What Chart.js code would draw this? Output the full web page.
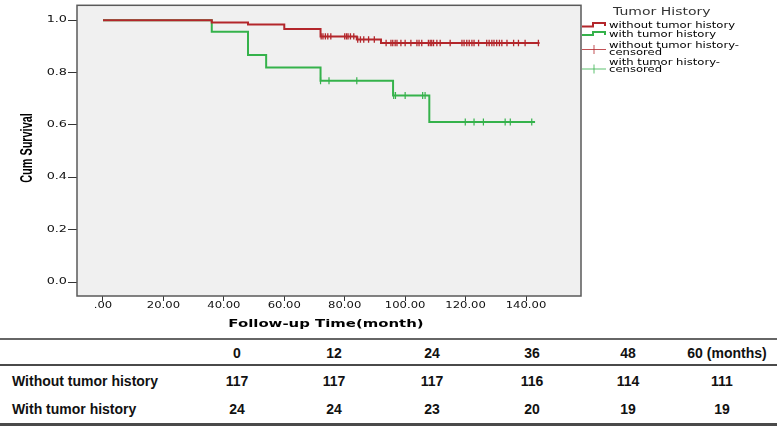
<!DOCTYPE html>
<html>
<head>
<meta charset="utf-8">
<script src="https://cdn.jsdelivr.net/npm/chart.js@4.4.0/dist/chart.umd.min.js"></script>
<style>
  html, body { margin: 0; padding: 0; background: #fff; }
  #wrap { position: relative; width: 777px; height: 426px; overflow: hidden; }
  #chart { position: absolute; left: 0; top: 0; }
  .rule { position: absolute; left: 0; width: 777px; background: #4a4a4a; }
  .cell { position: absolute; font: bold 14px "Liberation Sans", Arial, sans-serif; color: #111; white-space: nowrap; line-height: 16px; }
</style>
</head>
<body>
<div id="wrap">
  <canvas id="chart" width="777" height="336"></canvas>
  <div class="rule" style="top:338px;height:2px;background:#666"></div>
  <div class="rule" style="top:364px;height:2px"></div>
  <div class="rule" style="top:423px;height:3px"></div>
</div>
<script>
// axis ticks
const xTicks = [0, 20, 40, 60, 80, 100, 120, 140];
const xTickLabels = ['.00', '20.00', '40.00', '60.00', '80.00', '100.00', '120.00', '140.00'];
const yTicks = [0, 0.2, 0.4, 0.6, 0.8, 1.0];
const yTickLabels = ['0.0', '0.2', '0.4', '0.6', '0.8', '1.0'];

// KM step points (time in months, cumulative survival)
const redTimes = [0, 36, 48, 60, 72, 84, 92, 144.5];
const redSurv = [1, 0.991, 0.983, 0.966, 0.938, 0.926, 0.913, 0.913];
const greenTimes = [0, 36, 48, 54, 72, 96, 108, 143];
const greenSurv = [1, 0.956, 0.867, 0.819, 0.769, 0.712, 0.611, 0.611];

// censored times
const redCensored = [72.2, 72.8, 73.6, 74.4, 75.4, 80.0, 80.6, 81.1, 81.9, 83.0,
  84.3, 85.2, 86.3, 87.9, 89.8,
  93.7, 95.3, 95.9, 96.7, 97.3, 98.6, 100, 101.9, 103.9, 104.6, 105.5, 107.7, 108.3, 108.8, 109.4,
  110.5, 111.6, 114.9, 118.8, 119.5, 120.4, 121.2, 122.1, 122.8, 124.3, 127, 127.8, 128.7, 129.4,
  130.3, 131.2, 132, 133.7, 135.9, 137.5, 139.7, 144.1];
const greenCensored = [72, 74.8, 84, 96.2, 96.8, 100, 105.8, 106.6, 119.9, 122.8, 125.9, 133.1, 134.8, 141.9];

// risk table
const tableHeader = ['0', '12', '24', '36', '48', '60 (months)'];
const rowLabels = ['Without tumor history', 'With tumor history'];
const atRiskWithout = [117, 117, 117, 116, 114, 111];
const atRiskWith = [24, 24, 23, 20, 19, 19];

const legendTitle = 'Tumor History';
const legendLabels = [['without tumor history'], ['with tumor history'],
  ['without tumor history-', 'censored'], ['with tumor history-', 'censored']];

const RED = '#b3262b';
const GREEN = '#35b24b';

function survAt(times, surv, t) {
  let s = surv[0];
  for (let i = 0; i < times.length; i++) if (times[i] <= t) s = surv[i];
  return s;
}
const pts = (xs, ys) => xs.map((x, i) => ({ x, y: ys[i] }));
const censorPts = (cs, times, surv) => cs.map(t => ({ x: t, y: survAt(times, surv, t) }));

function wideText(ctx, text, x, y, sx, align) {
  ctx.save();
  ctx.translate(x, y);
  ctx.scale(sx, 1);
  ctx.textAlign = align;
  ctx.fillText(text, 0, 0);
  ctx.restore();
}

const plotBackground = {
  id: 'plotBackground',
  beforeDraw(chart) {
    const { ctx, chartArea: a } = chart;
    ctx.save();
    ctx.fillStyle = '#f0f0f0';
    ctx.fillRect(a.left, a.top, a.right - a.left, a.bottom - a.top);
    ctx.restore();
  },
};

const decorations = {
  id: 'decorations',
  afterDraw(chart) {
    const { ctx, chartArea: a, scales } = chart;
    ctx.save();
    // frame
    ctx.strokeStyle = '#5a5a5a';
    ctx.lineWidth = 1.5;
    ctx.strokeRect(a.left, a.top, a.right - a.left, a.bottom - a.top);

    // tick labels
    ctx.fillStyle = '#111';
    ctx.font = '8px "DejaVu Sans"';
    ctx.textBaseline = 'middle';
    scales.x.ticks.forEach((t, i) => {
      wideText(ctx, xTickLabels[i], scales.x.getPixelForValue(t.value), a.bottom + 10, 1.45, 'center');
    });
    scales.y.ticks.forEach((t, i) => {
      wideText(ctx, yTickLabels[i], a.left - 10, scales.y.getPixelForValue(t.value), 1.6, 'right');
    });

    // axis titles
    ctx.fillStyle = '#000';
    ctx.font = 'bold 10px "DejaVu Sans"';
    wideText(ctx, 'Follow-up Time(month)', 326, 324, 1.49, 'center');
    ctx.save();
    ctx.translate(28, 148);
    ctx.rotate(-Math.PI / 2);
    ctx.scale(0.68, 1);
    ctx.font = 'bold 16px "Liberation Sans"';
    ctx.textAlign = 'center';
    ctx.fillText('Cum Survival', 0, 0);
    ctx.restore();

    // legend
    const lx = a.right + 1;
    ctx.fillStyle = '#333';
    ctx.font = '10px "DejaVu Sans"';
    wideText(ctx, legendTitle, 613, 12, 1.4, 'left');

    ctx.lineWidth = 2;
    ctx.strokeStyle = RED;
    ctx.beginPath();
    ctx.moveTo(lx, 26.5); ctx.lineTo(593, 26.5); ctx.lineTo(593, 23); ctx.lineTo(605, 23); ctx.lineTo(605, 26);
    ctx.stroke();
    ctx.strokeStyle = GREEN;
    ctx.beginPath();
    ctx.moveTo(lx, 35); ctx.lineTo(593, 35); ctx.lineTo(593, 32); ctx.lineTo(605, 32); ctx.lineTo(605, 35);
    ctx.stroke();

    ctx.lineWidth = 1;
    [[RED, 49.5], [GREEN, 69]].forEach(([c, y]) => {
      ctx.strokeStyle = c;
      ctx.globalAlpha = 0.8;
      ctx.beginPath();
      ctx.moveTo(lx, y); ctx.lineTo(606, y);
      ctx.moveTo(594, y - 4.5); ctx.lineTo(594, y + 4.5);
      ctx.stroke();
      ctx.globalAlpha = 1;
    });

    ctx.fillStyle = '#000';
    ctx.font = '8.8px "DejaVu Sans"';
    const rowsY = [[26], [35], [45.5, 52.5], [63, 70]];
    legendLabels.forEach((lines, i) => {
      lines.forEach((s, j) => wideText(ctx, s, 609, rowsY[i][j], 1.32, 'left'));
    });
    ctx.restore();
  },
};

new Chart(document.getElementById('chart').getContext('2d'), {
  type: 'line',
  plugins: [plotBackground, decorations],
  data: {
    datasets: [
      {
        label: 'without tumor history',
        data: pts(redTimes, redSurv),
        stepped: 'before',
        borderColor: RED,
        borderWidth: 2,
        pointRadius: 0,
        fill: false,
      },
      {
        label: 'with tumor history',
        data: pts(greenTimes, greenSurv),
        stepped: 'before',
        borderColor: GREEN,
        borderWidth: 2,
        pointRadius: 0,
        fill: false,
      },
      {
        label: 'without tumor history-censored',
        data: censorPts(redCensored, redTimes, redSurv),
        showLine: false,
        pointStyle: 'line',
        rotation: 90,
        pointRadius: 3.2,
        borderColor: RED,
        pointBorderWidth: 1.3,
      },
      {
        label: 'with tumor history-censored',
        data: censorPts(greenCensored, greenTimes, greenSurv),
        showLine: false,
        pointStyle: 'line',
        rotation: 90,
        pointRadius: 3.5,
        borderColor: GREEN,
        pointBorderWidth: 1.2,
      },
    ],
  },
  options: {
    responsive: false,
    animation: false,
    layout: { padding: { left: 68, right: 196, top: 2, bottom: 35 } },
    scales: {
      x: {
        type: 'linear',
        min: -8.6,
        max: 158.2,
        afterBuildTicks: (s) => { s.ticks = xTicks.map(v => ({ value: v })); },
        ticks: { display: false },
        border: { display: false },
        grid: { drawOnChartArea: false, drawTicks: true, tickLength: 5, color: '#333', lineWidth: 1 },
      },
      y: {
        type: 'linear',
        min: -0.0528,
        max: 1.0566,
        afterBuildTicks: (s) => { s.ticks = yTicks.map(v => ({ value: v })); },
        ticks: { display: false },
        border: { display: false },
        grid: { drawOnChartArea: false, drawTicks: true, tickLength: 9, color: '#333', lineWidth: 1 },
      },
    },
    plugins: {
      legend: { display: false },
      tooltip: { enabled: false },
    },
  },
});

// risk table
const wrap = document.getElementById('wrap');
const colCenters = [237, 334, 432, 532, 628, 727];
function addCell(text, x, y, center) {
  const d = document.createElement('div');
  d.className = 'cell';
  d.textContent = text;
  d.style.left = x + 'px';
  d.style.top = (y - 8) + 'px';
  if (center) d.style.transform = 'translateX(-50%)';
  wrap.appendChild(d);
}
tableHeader.forEach((t, i) => addCell(t, colCenters[i], 353, true));
[atRiskWithout, atRiskWith].forEach((row, r) => {
  const y = r === 0 ? 381 : 409;
  addCell(rowLabels[r], 12, y, false);
  row.forEach((v, i) => addCell(String(v), i === 5 ? colCenters[i] - 5 : colCenters[i], y, true));
});
</script>
</body>
</html>
